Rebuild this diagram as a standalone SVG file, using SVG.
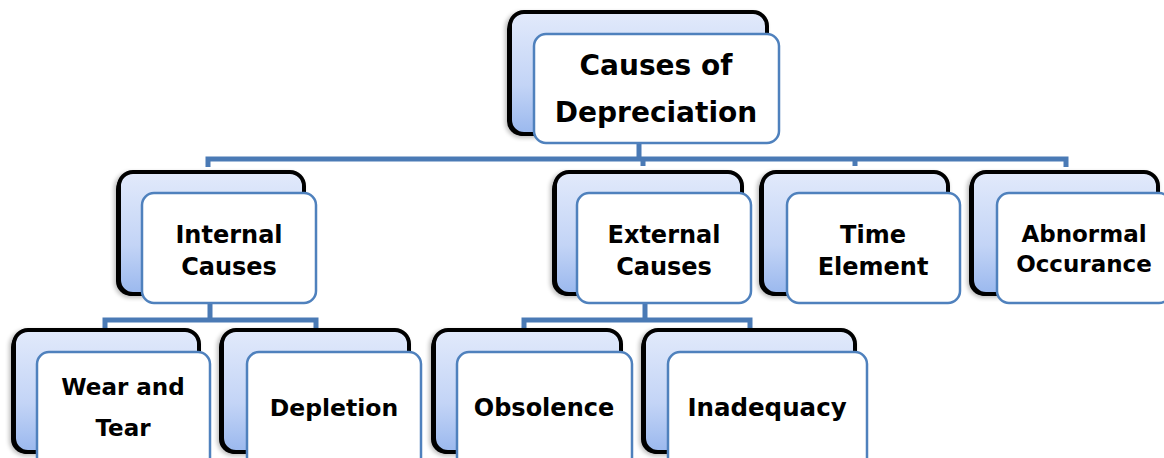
<svg xmlns="http://www.w3.org/2000/svg" width="1164" height="458" viewBox="0 0 1164 458">
<defs>
<linearGradient id="bg" x1="0" y1="0" x2="0" y2="1">
<stop offset="0" stop-color="#e2eafb"/>
<stop offset="0.6" stop-color="#c3d4f6"/>
<stop offset="1" stop-color="#9ab8ee"/>
</linearGradient>
<filter id="glow" x="-10%" y="-10%" width="120%" height="120%">
<feGaussianBlur stdDeviation="2"/>
</filter>
</defs>
<style>
.sh{fill:#000;opacity:0.25;filter:url(#glow)}
.bk{fill:#000}
.back{fill:url(#bg);stroke:#000;stroke-width:4}
.front{fill:#fff;stroke:#4f81bd;stroke-width:2.5}
.t{font-family:"DejaVu Sans",sans-serif;font-weight:bold;fill:#000;text-anchor:middle}
.c{fill:none;stroke:#4a7ab5;stroke-width:5}
</style>
<rect width="1164" height="458" fill="#fff"/>
<g id="connectors">
<path class="c" d="M639 143V159M208 167V159H1066V167M643 159V166M855 159V166"/>
<path class="c" d="M210 303V320M105 328V320H316V328"/>
<path class="c" d="M645 303V320M524 328V320H750V328"/>
</g>
<g id="n-root">
<rect class="sh" x="505" y="12" width="262" height="126" rx="16"/>
<rect class="bk" x="507" y="14" width="258" height="122" rx="15"/>
<rect class="back" x="510" y="12" width="257" height="122" rx="14"/>
<rect class="front" x="534" y="34" width="245" height="109" rx="12"/>
<text class="t" font-size="28" x="656" y="75">Causes of</text>
<text class="t" font-size="28" x="656" y="122">Depreciation</text>
</g>
<g id="n-internal">
<rect class="sh" x="114" y="172" width="190" height="126" rx="16"/>
<rect class="bk" x="116" y="174" width="186" height="122" rx="15"/>
<rect class="back" x="119" y="172" width="185" height="122" rx="14"/>
<rect class="front" x="142" y="193" width="174" height="110" rx="12"/>
<text class="t" font-size="24" x="229" y="243">Internal</text>
<text class="t" font-size="24" x="229" y="275">Causes</text>
</g>
<g id="n-external">
<rect class="sh" x="550" y="172" width="192" height="126" rx="16"/>
<rect class="bk" x="552" y="174" width="188" height="122" rx="15"/>
<rect class="back" x="555" y="172" width="187" height="122" rx="14"/>
<rect class="front" x="577" y="193" width="174" height="110" rx="12"/>
<text class="t" font-size="24" x="664" y="243">External</text>
<text class="t" font-size="24" x="664" y="275">Causes</text>
</g>
<g id="n-time">
<rect class="sh" x="757" y="172" width="192" height="126" rx="16"/>
<rect class="bk" x="759" y="174" width="188" height="122" rx="15"/>
<rect class="back" x="762" y="172" width="186" height="122" rx="14"/>
<rect class="front" x="787" y="193" width="173" height="110" rx="12"/>
<text class="t" font-size="24" x="873" y="243">Time</text>
<text class="t" font-size="24" x="873" y="275">Element</text>
</g>
<g id="n-abnormal">
<rect class="sh" x="967" y="172" width="192" height="126" rx="16"/>
<rect class="bk" x="969" y="174" width="188" height="122" rx="15"/>
<rect class="back" x="972" y="172" width="186" height="122" rx="14"/>
<rect class="front" x="997" y="193" width="174" height="110" rx="12"/>
<text class="t" font-size="23" x="1084" y="242">Abnormal</text>
<text class="t" font-size="23" x="1084" y="272">Occurance</text>
</g>
<g id="n-wear">
<rect class="sh" x="9" y="330" width="190" height="126" rx="16"/>
<rect class="bk" x="11" y="332" width="186" height="122" rx="15"/>
<rect class="back" x="14" y="330" width="185" height="122" rx="14"/>
<rect class="front" x="37" y="352" width="173" height="118" rx="12"/>
<text class="t" font-size="23" x="123" y="395">Wear and</text>
<text class="t" font-size="23" x="123" y="436">Tear</text>
</g>
<g id="n-depletion">
<rect class="sh" x="217" y="330" width="192" height="126" rx="16"/>
<rect class="bk" x="219" y="332" width="188" height="122" rx="15"/>
<rect class="back" x="222" y="330" width="187" height="122" rx="14"/>
<rect class="front" x="247" y="352" width="174" height="118" rx="12"/>
<text class="t" font-size="23.5" x="334" y="416">Depletion</text>
</g>
<g id="n-obsolence">
<rect class="sh" x="429" y="330" width="192" height="126" rx="16"/>
<rect class="bk" x="431" y="332" width="188" height="122" rx="15"/>
<rect class="back" x="434" y="330" width="187" height="122" rx="14"/>
<rect class="front" x="457" y="352" width="175" height="118" rx="12"/>
<text class="t" font-size="24" x="544" y="416">Obsolence</text>
</g>
<g id="n-inadequacy">
<rect class="sh" x="639" y="330" width="217" height="126" rx="16"/>
<rect class="bk" x="641" y="332" width="213" height="122" rx="15"/>
<rect class="back" x="644" y="330" width="211" height="122" rx="14"/>
<rect class="front" x="668" y="352" width="199" height="118" rx="12"/>
<text class="t" font-size="24.5" x="767" y="416">Inadequacy</text>
</g>
</svg>
